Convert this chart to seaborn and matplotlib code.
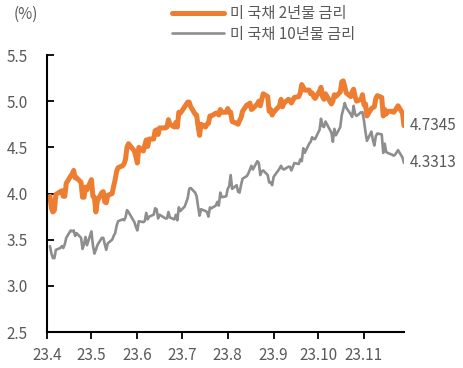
import numpy as np
import pandas as pd
import matplotlib
matplotlib.use("Agg")
import matplotlib.pyplot as plt
import seaborn as sns

# US Treasury yields, business days 2023-04-03 .. 2023-11-28
holidays = ["2023-05-29", "2023-06-19", "2023-07-04", "2023-09-04",
            "2023-10-09", "2023-11-23"]

y2 = [
    # Apr
    3.97, 3.84, 3.80, 3.82, 3.99, 4.02, 4.03, 3.97, 3.97, 4.11,
    4.19, 4.21, 4.25, 4.17, 4.17, 4.12, 3.96, 3.96, 4.07, 4.04,
    # May
    4.15, 3.97, 3.96, 3.80, 3.92, 4.01, 4.02, 3.91, 3.90, 3.98, 4.00,
    4.08, 4.15, 4.24, 4.28, 4.30, 4.32, 4.37, 4.50, 4.54, 4.46, 4.40,
    # Jun
    4.33, 4.50, 4.46, 4.52, 4.58, 4.51, 4.59, 4.59, 4.68, 4.69, 4.64,
    4.71, 4.71, 4.72, 4.80, 4.75, 4.72, 4.77, 4.72, 4.88, 4.87,
    # Jul
    4.94, 4.99, 4.99, 4.94, 4.86, 4.85, 4.73, 4.63, 4.75, 4.72,
    4.75, 4.76, 4.84, 4.84, 4.87, 4.87, 4.85, 4.91, 4.88, 4.88,
    # Aug
    4.92, 4.88, 4.88, 4.78, 4.76, 4.75, 4.79, 4.82, 4.89, 4.96, 4.96, 4.98,
    4.91, 4.92, 4.97, 5.00, 4.95, 5.02, 5.08, 5.05, 4.89, 4.91, 4.85,
    # Sep
    4.88, 4.95, 5.02, 4.94, 4.98, 5.02, 5.01, 4.98, 5.01, 5.04,
    5.05, 5.09, 5.18, 5.15, 5.12, 5.12, 5.08, 5.09, 5.05, 5.03,
    # Oct
    5.11, 5.15, 5.05, 5.02, 5.08, 4.97, 5.00, 5.07, 5.05, 5.10, 5.21,
    5.22, 5.16, 5.09, 5.05, 5.10, 5.13, 5.05, 5.00, 5.02, 5.07,
    # Nov
    4.96, 4.97, 4.84, 4.92, 4.93, 4.94, 5.03, 5.06, 5.04, 4.84,
    4.91, 4.86, 4.89, 4.89, 4.88, 4.90, 4.95, 4.87, 4.7345,
]

y10 = [
    # Apr
    3.43, 3.35, 3.30, 3.30, 3.39, 3.41, 3.43, 3.41, 3.45, 3.52,
    3.60, 3.59, 3.60, 3.54, 3.57, 3.52, 3.40, 3.45, 3.53, 3.44,
    # May
    3.59, 3.44, 3.35, 3.39, 3.44, 3.52, 3.52, 3.45, 3.39, 3.46, 3.50,
    3.54, 3.57, 3.65, 3.70, 3.72, 3.71, 3.74, 3.82, 3.80, 3.69, 3.64,
    # Jun
    3.60, 3.70, 3.69, 3.70, 3.79, 3.72, 3.75, 3.77, 3.84, 3.83, 3.73,
    3.77, 3.73, 3.73, 3.80, 3.74, 3.72, 3.77, 3.71, 3.85, 3.81,
    # Jul
    3.86, 3.95, 4.05, 4.06, 4.01, 3.97, 3.86, 3.76, 3.83, 3.81,
    3.80, 3.75, 3.85, 3.84, 3.87, 3.91, 3.87, 4.01, 3.96, 3.97,
    # Aug
    4.05, 4.08, 4.20, 4.05, 4.09, 4.02, 4.01, 4.09, 4.16, 4.19, 4.22, 4.26,
    4.30, 4.26, 4.35, 4.33, 4.20, 4.24, 4.25, 4.20, 4.12, 4.12, 4.09,
    # Sep
    4.18, 4.27, 4.30, 4.27, 4.26, 4.29, 4.29, 4.25, 4.29, 4.33,
    4.32, 4.37, 4.35, 4.49, 4.44, 4.54, 4.56, 4.61, 4.59, 4.59,
    # Oct
    4.69, 4.81, 4.73, 4.72, 4.78, 4.66, 4.56, 4.70, 4.63, 4.72, 4.85,
    4.91, 4.98, 4.93, 4.86, 4.83, 4.95, 4.86, 4.84, 4.88, 4.88,
    # Nov
    4.79, 4.67, 4.57, 4.67, 4.58, 4.52, 4.62, 4.65, 4.64, 4.44,
    4.54, 4.45, 4.44, 4.42, 4.41, 4.42, 4.47, 4.39, 4.3313,
]

month_ticks = ["2023-04-01", "2023-05-01", "2023-06-01", "2023-07-01",
               "2023-08-01", "2023-09-01", "2023-10-01", "2023-11-01"]
month_labels = ["23.4", "23.5", "23.6", "23.7", "23.8", "23.9", "23.10", "23.11"]

label2 = "미 국채 2년물 금리"
label10 = "미 국채 10년물 금리"

dates = pd.bdate_range("2023-04-03", "2023-11-28", freq="C", holidays=holidays)
df = pd.DataFrame({"date": dates, "y2": y2, "y10": y10})

sns.set_style("white")
plt.rcParams["font.family"] = ["Noto Sans CJK KR", "DejaVu Sans"]

orange = "#ED7D31"
grey = "#8E8E8E"
txt = "#595959"

fig = plt.figure(figsize=(4.63, 3.68), dpi=100)
ax = fig.add_axes([0.1015, 0.0978, 0.771, 0.7527])

sns.lineplot(data=df, x="date", y="y2", ax=ax, color=orange, lw=3.0, label=label2)
sns.lineplot(data=df, x="date", y="y10", ax=ax, color=grey, lw=1.9, label=label10)

ax.set_xlim(pd.Timestamp("2023-04-01"), pd.Timestamp("2023-11-28"))
ax.set_ylim(2.5, 5.5)
ax.set_yticks(np.arange(2.5, 5.51, 0.5))
ax.set_yticklabels([f"{v:.1f}" for v in np.arange(2.5, 5.51, 0.5)])
ax.set_xticks(pd.to_datetime(month_ticks))
ax.set_xticklabels(month_labels)
ax.set_xlabel("")
ax.set_ylabel("")

for s in ["top", "right"]:
    ax.spines[s].set_visible(False)
for s in ["left", "bottom"]:
    ax.spines[s].set_color("black")
    ax.spines[s].set_linewidth(1.5)

ax.tick_params(axis="y", direction="in", length=5, width=1.3, color="black",
               labelsize=11, labelcolor=txt, pad=14, left=True)
ax.tick_params(axis="x", direction="out", length=5, width=1.3, color="black",
               labelsize=11, labelcolor=txt, pad=5.5, bottom=True)

# last-value labels
last = df.iloc[-1]
ax.annotate(f"{y2[-1]:.4f}", (last["date"], last["y2"]), xytext=(4, 0),
            textcoords="offset points", va="center", ha="left",
            fontsize=11, color=txt, annotation_clip=False)
ax.annotate(f"{y10[-1]:.4f}", (last["date"], last["y10"]), xytext=(4, 0),
            textcoords="offset points", va="center", ha="left",
            fontsize=11, color=txt, annotation_clip=False)

fig.text(0.03, 0.962, "(%)", fontsize=11, color=txt, va="center", ha="left")

ax.get_legend().remove()
handles, labels = ax.get_legend_handles_labels()
handles[0].set_linewidth(3.6)
fig.legend(handles, labels, loc="upper left", bbox_to_anchor=(0.341, 1.024),
           frameon=False, fontsize=11, handlelength=3.4, handletextpad=0.4,
           labelspacing=0.25, labelcolor=txt)

fig.savefig("out.png", dpi=100)
